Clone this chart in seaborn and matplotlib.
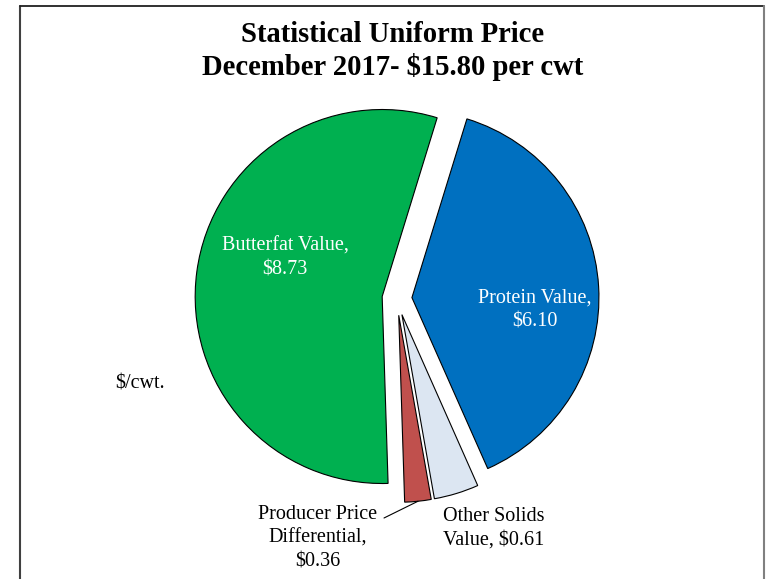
import numpy as np
import matplotlib
matplotlib.use("Agg")
import matplotlib.pyplot as plt
import seaborn as sns

# price components of the uniform price, clockwise from the top
components = ["Protein Value", "Other Solids Value", "Producer Price Differential", "Butterfat Value"]
prices = [6.10, 0.61, 0.36, 8.73]
slice_labels = ["Protein Value,\n$6.10", "Other Solids\nValue, $0.61",
                "Producer Price\nDifferential,\n$0.36", "Butterfat Value,\n$8.73"]
title_lines = ["Statistical Uniform Price", "December 2017- $15.80 per cwt"]
unit_label = "$/cwt."

sns.set_theme(style="white")
plt.rcParams["font.family"] = ["Liberation Serif", "DejaVu Serif"]
plt.rcParams["text.color"] = "black"

W, H = 767, 579
fig = plt.figure(figsize=(W / 100, H / 100), dpi=100)
ax = fig.add_axes([0, 0, 1, 1])

R = 187
colors = sns.color_palette(["#0070C0", "#DCE6F2", "#C0504D", "#00B050"])
explode = [f * R for f in (0.08, 0.09, 0.09, 0.08)]
wedges, _ = ax.pie(prices, colors=colors, explode=explode, startangle=72.9,
                   counterclock=False, radius=R, center=(397, H - 298.5),
                   wedgeprops=dict(edgecolor="black", linewidth=0.8), frame=True)
ax.set_xlim(0, W)
ax.set_ylim(0, H)
ax.set_axis_off()

# label placement (x centre, baseline of last line from top)
label_pos = [(535, 327, "white"), (494, 545, "black"),
             (318, 567, "black"), (285, 275, "white")]
for lab, (x, y, col) in zip(slice_labels, label_pos):
    ax.text(x, H - y, lab, ha="center", va="baseline", color=col, fontsize=14.5,
            linespacing=1.37, multialignment="center")

# leader line for the producer price differential
w = wedges[2]
th = np.deg2rad((w.theta1 + w.theta2) / 2)
tip = (w.center[0] + w.r * np.cos(th), w.center[1] + w.r * np.sin(th))
ax.plot([384, tip[0]], [H - 518, tip[1]], color="black", lw=0.8)

ax.text(115, H - 388, unit_label, ha="left", va="baseline", fontsize=14.5)

ax.text(393, H - 42, title_lines[0], ha="center", va="baseline", fontsize=20.6, fontweight="bold")
ax.text(393, H - 75, title_lines[1], ha="center", va="baseline", fontsize=20.6, fontweight="bold")

# outer frame
ax.plot([20, 20], [-5, H - 6], color="#404040", lw=1.5, clip_on=False)
ax.plot([20, 764], [H - 6, H - 6], color="#202020", lw=1.3, clip_on=False)
ax.plot([764, 764], [-5, H - 6], color="#808080", lw=1.5, clip_on=False)

fig.savefig("out.png", dpi=100)
